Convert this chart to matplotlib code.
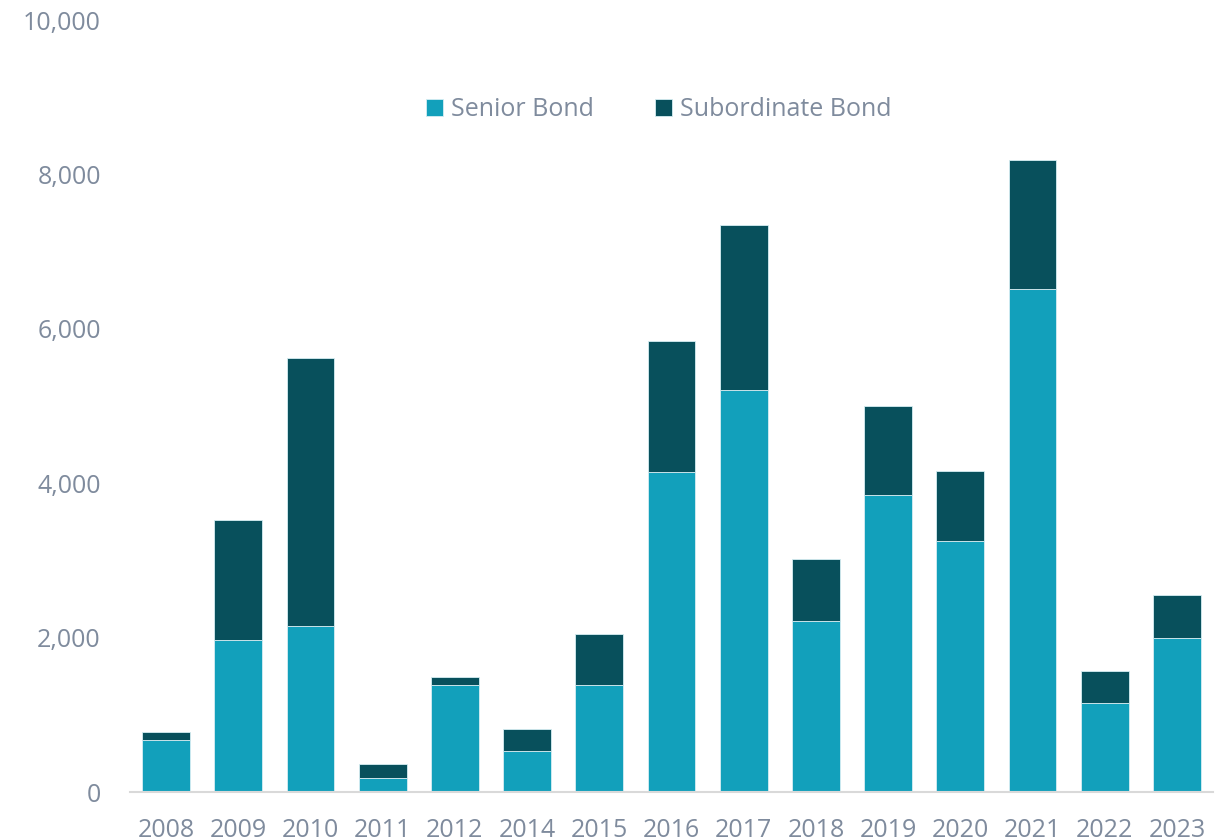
import numpy as np
import matplotlib.pyplot as plt
from matplotlib.ticker import FuncFormatter

years = ['2008', '2009', '2010', '2011', '2012', '2014', '2015', '2016',
         '2017', '2018', '2019', '2020', '2021', '2022', '2023']
senior = [674, 1969, 2150, 181, 1386, 531, 1386, 4145,
          5207, 2215, 3847, 3251, 6516, 1153, 1995]
subordinate = [103, 1554, 3472, 182, 104, 285, 661, 1697,
               2138, 803, 1153, 907, 1671, 414, 557]

c_senior = '#12a0bb'
c_sub = '#08505c'
c_text = '#7f8b9d'

plt.rcParams['font.family'] = ['Open Sans', 'DejaVu Sans']

fig = plt.figure(figsize=(12.18, 8.39), dpi=100)
ax = fig.add_axes([130 / 1218, 1 - 792 / 839, (1213 - 130) / 1218, (792 - 20) / 839])

x = np.arange(len(years))
ax.bar(x, senior, width=0.66, color=c_senior, edgecolor='#d6eef3', linewidth=0.6,
       label='Senior Bond', zorder=2)
ax.bar(x, subordinate, width=0.66, bottom=senior, color=c_sub, edgecolor='#d6eef3',
       linewidth=0.6, label='Subordinate Bond', zorder=2)

ax.set_xlim(-0.5, len(years) - 0.5)
ax.set_ylim(0, 10000)
ax.set_yticks(np.arange(0, 10001, 2000))
ax.yaxis.set_major_formatter(FuncFormatter(lambda v, p: f'{int(v):,}'))
ax.set_xticks(x)
ax.set_xticklabels(years)

for s in ['top', 'right', 'left']:
    ax.spines[s].set_visible(False)
ax.spines['bottom'].set_color('#d9d9d9')
ax.spines['bottom'].set_linewidth(1.5)
ax.spines['bottom'].set_zorder(3)

ax.tick_params(axis='both', length=0, labelsize=18, labelcolor=c_text)
ax.tick_params(axis='y', pad=21)
ax.tick_params(axis='x', pad=19)

leg = ax.legend(loc='upper center', bbox_to_anchor=(0.488, 0.929), ncol=2, frameon=False,
                fontsize=18, handlelength=0.7, handleheight=0.7, handletextpad=0.3,
                columnspacing=2.45, labelcolor=c_text)

fig.savefig('out.png', dpi=100)
